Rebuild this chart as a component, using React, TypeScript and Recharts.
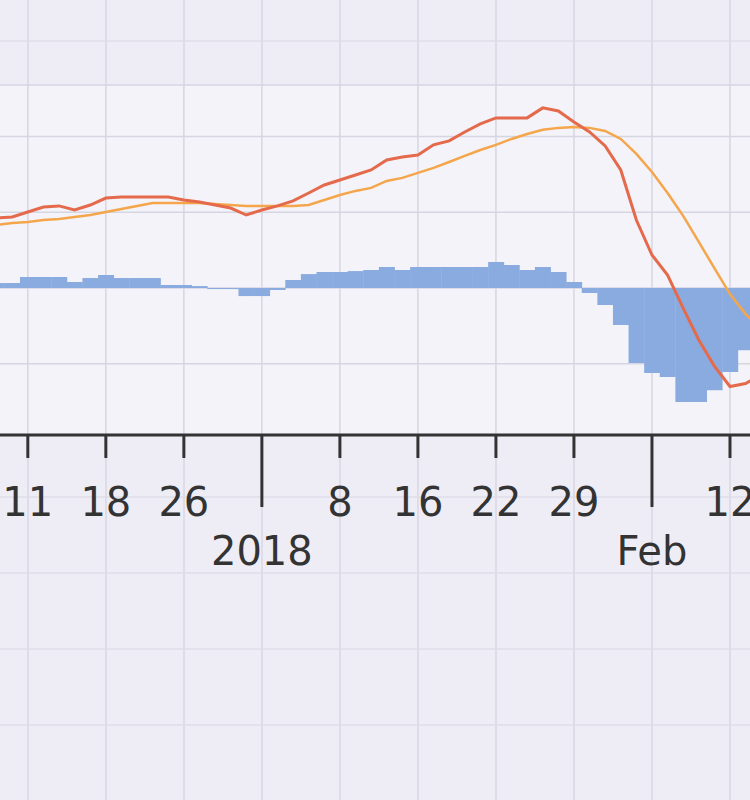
import React from 'react';
import { ComposedChart, Bar, Line, XAxis, YAxis, CartesianGrid } from 'recharts';

// weekday slots, Dec 4 2017 .. Feb 14 2018
const dates = [
  '2017-12-04', '2017-12-05', '2017-12-06', '2017-12-07', '2017-12-08',
  '2017-12-11', '2017-12-12', '2017-12-13', '2017-12-14', '2017-12-15',
  '2017-12-18', '2017-12-19', '2017-12-20', '2017-12-21', '2017-12-22',
  '2017-12-25', '2017-12-26', '2017-12-27', '2017-12-28', '2017-12-29',
  '2018-01-01', '2018-01-02', '2018-01-03', '2018-01-04', '2018-01-05',
  '2018-01-08', '2018-01-09', '2018-01-10', '2018-01-11', '2018-01-12',
  '2018-01-15', '2018-01-16', '2018-01-17', '2018-01-18', '2018-01-19',
  '2018-01-22', '2018-01-23', '2018-01-24', '2018-01-25', '2018-01-26',
  '2018-01-29', '2018-01-30', '2018-01-31', '2018-02-01', '2018-02-02',
  '2018-02-05', '2018-02-06', '2018-02-07', '2018-02-08', '2018-02-09',
  '2018-02-12', '2018-02-13', '2018-02-14',
];

const macd = [
  0.436, 0.443, 0.449, 0.462, 0.469,
  0.502, 0.535, 0.542, 0.515, 0.548,
  0.594, 0.601, 0.601, 0.601, 0.601,
  0.581, 0.568, 0.548, 0.528, 0.482,
  0.515, 0.542, 0.575, 0.627, 0.68,
  0.713, 0.746, 0.779, 0.845, 0.865,
  0.878, 0.945, 0.971, 1.03, 1.083,
  1.123, 1.123, 1.123, 1.189, 1.169,
  1.096, 1.03, 0.938, 0.779, 0.449,
  0.218, 0.086, -0.132, -0.343, -0.515,
  -0.65, -0.63, -0.57,
];

const signal = [
  0.396, 0.403, 0.41, 0.416, 0.429,
  0.436, 0.449, 0.456, 0.469, 0.482,
  0.502, 0.522, 0.542, 0.561, 0.561,
  0.561, 0.561, 0.555, 0.548, 0.542,
  0.542, 0.542, 0.542, 0.548, 0.581,
  0.614, 0.641, 0.661, 0.707, 0.727,
  0.76, 0.793, 0.832, 0.872, 0.911,
  0.945, 0.984, 1.017, 1.044, 1.057,
  1.063, 1.057, 1.037, 0.984, 0.885,
  0.766, 0.627, 0.476, 0.304, 0.132,
  -0.04, -0.172, -0.277,
];

const histogram = [
  0.033, 0.033, 0.033, 0.033, 0.033,
  0.073, 0.073, 0.073, 0.04, 0.066,
  0.086, 0.066, 0.066, 0.066, 0.02,
  0.02, 0.013, -0.007, -0.007, -0.053,
  -0.053, -0.013, 0.053, 0.092, 0.106,
  0.106, 0.112, 0.119, 0.139, 0.119,
  0.139, 0.139, 0.139, 0.139, 0.139,
  0.172, 0.152, 0.119, 0.139, 0.106,
  0.04, -0.033, -0.112, -0.244, -0.495,
  -0.561, -0.588, -0.753, -0.753, -0.674,
  -0.555, -0.41, -0.264,
];

const tickDates = [
  '2017-12-11', '2017-12-18', '2017-12-25', '2018-01-01', '2018-01-08',
  '2018-01-15', '2018-01-22', '2018-01-29', '2018-02-05', '2018-02-12',
];
const tickLabels = ['11', '18', '26', '2018', '8', '16', '22', '29', 'Feb', '12'];
const majorLabels = ['2018', 'Feb'];

const yTicks = [-0.5, 0, 0.5, 1];

const data = dates.map((d, i) => ({
  date: d,
  macd: macd[i],
  signal: signal[i],
  hist: histogram[i],
}));

const INK = '#333333';

function DateTick(props: any) {
  const { x, y, payload } = props;
  const label = tickLabels[tickDates.indexOf(payload.value)];
  const major = majorLabels.includes(label);
  return (
    <g>
      <line x1={x} x2={x} y1={y} y2={y + (major ? 72 : 23)} stroke={INK} strokeWidth={3} />
      <text
        x={x}
        y={y + (major ? 130 : 81)}
        textAnchor="middle"
        fontFamily="DejaVu Sans"
        fontSize={40}
        fill={INK}
      >
        {label}
      </text>
    </g>
  );
}

export default function App() {
  return (
    <div
      style={{
        position: 'absolute',
        top: 0,
        left: 0,
        width: 750,
        height: 800,
        overflow: 'hidden',
        backgroundColor: '#eeedf6',
        backgroundImage:
          'repeating-linear-gradient(90deg, transparent 0 27px, #dddce8 27px 29px, transparent 29px 78px),' +
          'repeating-linear-gradient(0deg, transparent 0 74px, #e2e1ec 74px 76px)',
      }}
    >
      <div style={{ position: 'absolute', left: -58, top: 0 }}>
        <ComposedChart
          width={827}
          height={800}
          data={data}
          margin={{ top: 85, right: 0, bottom: 0, left: 0 }}
          barCategoryGap={0}
          barGap={0}
        >
          <CartesianGrid stroke="#d6d5e2" strokeWidth={1.5} fill="#f3f3f9" fillOpacity={1} />
          <XAxis
            dataKey="date"
            type="category"
            ticks={tickDates}
            interval={0}
            height={365}
            tickSize={0}
            tickMargin={0}
            tickLine={false}
            axisLine={{ stroke: INK, strokeWidth: 3 }}
            tick={<DateTick />}
          />
          <YAxis hide type="number" domain={[-0.97, 1.34]} ticks={yTicks} />
          <Bar dataKey="hist" fill="#8aabdf" isAnimationActive={false} />
          <Line
            type="linear"
            dataKey="signal"
            stroke="#f5a64b"
            strokeWidth={2.5}
            dot={false}
            isAnimationActive={false}
          />
          <Line
            type="linear"
            dataKey="macd"
            stroke="#e56a4c"
            strokeWidth={3}
            dot={false}
            isAnimationActive={false}
          />
        </ComposedChart>
      </div>
    </div>
  );
}
